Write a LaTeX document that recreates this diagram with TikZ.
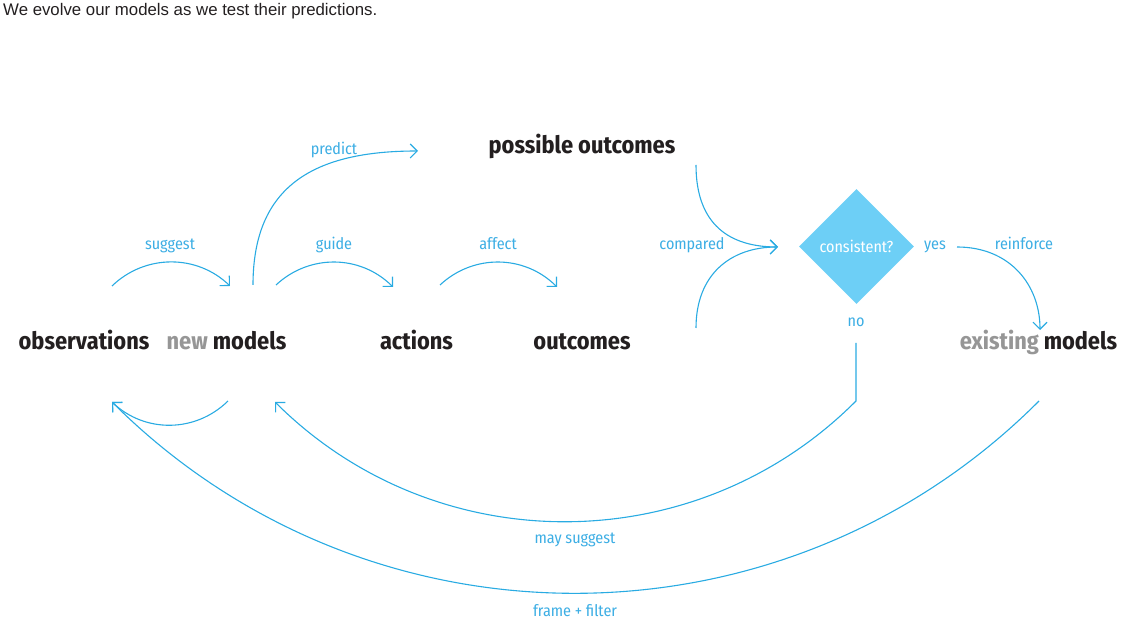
\documentclass[tikz,border=0pt]{standalone}
\usepackage{fontspec}
\setmainfont{Fira Sans Condensed}
\newfontfamily\titlefont{Liberation Sans}
\usetikzlibrary{arrows.meta,shapes.geometric}
\definecolor{lineblue}{RGB}{41,171,226}
\definecolor{labelblue}{RGB}{61,174,228}
\definecolor{boxblue}{RGB}{109,207,246}
\definecolor{textdark}{RGB}{35,31,32}
\definecolor{textgray}{RGB}{150,150,150}

\begin{document}
\begin{tikzpicture}[x=1pt,y=1pt,
    term/.style={font=\fontsize{24}{28}\selectfont\bfseries, text=textdark, anchor=base, inner sep=0},
    verb/.style={font=\fontsize{16}{19}\selectfont, text=labelblue, anchor=base, inner sep=0},
    flow/.style={draw=lineblue, line width=1.1pt, -{Straight Barb[length=7pt,width=14pt]}},
    plain/.style={draw=lineblue, line width=1.1pt}]
  \useasboundingbox (0,0) rectangle (1141,631);
  \node[anchor=base west, inner sep=0, font=\titlefont\fontsize{16.8}{20}\selectfont, text=textdark] (title) at (3,615) {We evolve our models as we test their predictions.};

  % terms
  \node[term] (obs) at (84,281) {observations};
  \node[term] (new) at (226.5,281) {\textcolor{textgray}{new} models};
  \node[term] (act) at (416.5,281) {actions};
  \node[term] (out) at (582,281) {outcomes};
  \node[term] (poss) at (582,477) {possible outcomes};
  \node[term] (exist) at (1038.5,281) {\textcolor{textgray}{existing} models};
  \node[shape=diamond, fill=boxblue, minimum width=115pt, minimum height=115pt, inner sep=0,
        font=\fontsize{16}{19}\selectfont, text=white] (test) at (856.5,384.5) {consistent?};

  % ends of the arcs
  \coordinate (obs-out) at (112,345);
  \coordinate (obs-in) at (112,229);
  \coordinate (new-in) at (230,345);
  \coordinate (new-up) at (253,346);
  \coordinate (new-back) at (275,229);
  \coordinate (new-down) at (228,230);
  \coordinate (new-out) at (276,346);
  \coordinate (act-in) at (393,344);
  \coordinate (act-out) at (440,346);
  \coordinate (out-in) at (557,344);
  \coordinate (out-up) at (696,303);
  \coordinate (poss-in) at (418,480);
  \coordinate (poss-down) at (696,466);
  \coordinate (test-in) at (778,384);
  \coordinate (test-yes) at (957,384);
  \coordinate (test-no) at (856,288);
  \coordinate (exist-in) at (1040,301);
  \coordinate (exist-out) at (1039,230);

  \draw[flow] (obs-out) to[bend left=44] (new-in);
  \draw[flow] (new-out) to[bend left=44] (act-in);
  \draw[flow] (act-out) to[bend left=44] (out-in);
  \draw[flow] (new-up) .. controls (253,446) and (315,480) .. (poss-in);
  \draw[flow] (poss-down) .. controls (696,406) and (730,384) .. (test-in);
  \draw[flow] (out-up) .. controls (696,356) and (730,384) .. (test-in);
  \draw[flow] (test-yes) .. controls (1010,384) and (1040,346) .. (exist-in);
  \draw[flow] (test-no) -- (856,230) to[bend left=45] (new-back);
  \draw[flow] (exist-out) to[bend left=45] (obs-in);
  \draw[flow] (new-down) to[bend left=44] (obs-in);

  % labels
  \node[verb] (l-suggest) at (170,381) {suggest};
  \node[verb] (l-predict) at (334,476) {predict};
  \node[verb] (l-guide) at (334,381) {guide};
  \node[verb] (l-affect) at (498,381) {affect};
  \node[verb] (l-compared) at (692,381) {compared};
  \node[verb] (l-yes) at (935,381) {yes};
  \node[verb] (l-reinforce) at (1024,381) {reinforce};
  \node[verb] (l-no) at (856,304) {no};
  \node[verb] (l-may) at (575,87) {may suggest};
  \node[verb] (l-frame) at (575,14) {frame + filter};
\end{tikzpicture}
\end{document}
